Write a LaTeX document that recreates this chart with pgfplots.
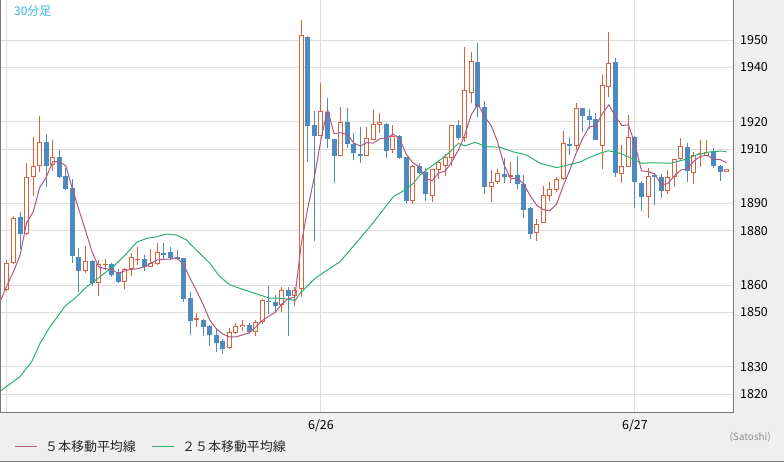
\documentclass[border=0pt]{standalone}
\usepackage{pgfplots}
\pgfplotsset{compat=1.18}
\usepackage{pgfplotstable}
\usepackage{fontspec}
\setmainfont{Noto Sans CJK JP}

\definecolor{upc}{HTML}{D9623E}
\definecolor{dnc}{HTML}{4D8AC0}
\definecolor{maf}{HTML}{B05882}
\definecolor{mas}{HTML}{2DB06E}
\definecolor{gridc}{HTML}{DDDDDD}
\definecolor{bgc}{HTML}{EFEFEF}
\definecolor{framec}{HTML}{7A7A7A}
\definecolor{lblc}{HTML}{33B5E5}

% up candles: index open high low close
\pgfplotstableread{
i o h l c
0 1858.2 1869.3 1857.8 1868.0
1 1868.0 1885.4 1867.8 1884.6
3 1878.7 1904.8 1878.5 1899.6
4 1899.6 1914.6 1892.8 1903.8
5 1903.8 1922.2 1901.7 1912.6
7 1904.2 1913.4 1902.1 1907.0
12 1865.3 1874.5 1864.4 1868.8
14 1860.9 1869.3 1856.1 1867.7
15 1867.4 1869.5 1865.6 1867.9
18 1861.1 1866.2 1858.6 1865.8
19 1866.0 1871.7 1863.4 1870.2
20 1869.1 1874.1 1867.4 1869.6
22 1866.8 1873.2 1866.6 1868.0
23 1867.7 1875.4 1867.4 1872.1
29 1847.3 1849.7 1844.8 1847.8
34 1837.0 1844.2 1836.7 1842.7
35 1842.5 1846.0 1842.0 1845.0
36 1844.5 1847.2 1843.1 1845.4
38 1842.9 1847.2 1841.3 1846.4
39 1846.4 1854.9 1845.7 1854.6
42 1852.6 1859.4 1850.0 1858.2
44 1856.1 1859.2 1852.5 1858.2
45 1858.5 1957.5 1855.8 1951.9
48 1914.9 1934.4 1914.7 1924.0
51 1907.6 1925.4 1907.4 1919.9
55 1907.6 1918.0 1907.4 1914.0
56 1913.4 1924.6 1913.2 1919.1
57 1919.0 1923.2 1916.0 1919.85
59 1909.7 1918.9 1908.7 1914.9
62 1890.9 1904.0 1889.8 1903.9
65 1892.9 1902.7 1890.7 1902.6
66 1902.3 1905.4 1899.0 1905.2
67 1903.8 1908.1 1900.1 1907.2
68 1906.85 1918.9 1903.8 1918.8
70 1914.0 1947.6 1912.7 1931.7
71 1930.5 1945.6 1926.8 1942.4
74 1896.2 1902.3 1890.7 1898.0
75 1898.0 1902.6 1897.2 1901.1
77 1899.9 1905.4 1897.4 1900.5
81 1879.1 1884.2 1876.35 1882.4
82 1883.0 1896.45 1882.7 1893.1
83 1892.9 1898.0 1891.05 1895.2
84 1895.0 1899.9 1894.4 1898.9
85 1898.9 1916.8 1898.7 1912.1
87 1911.3 1927.1 1909.7 1925.0
91 1911.3 1937.2 1902.7 1933.6
92 1932.9 1952.9 1929.05 1941.5
94 1900.75 1911.5 1897.7 1903.8
95 1903.55 1922.55 1903.4 1914.4
98 1892.5 1903.0 1884.8 1900.1
101 1894.7 1902.3 1893.5 1899.7
102 1899.7 1906.4 1896.2 1906.3
103 1906.3 1914.0 1906.0 1911.2
105 1901.3 1909.0 1897.1 1908.0
106 1908.2 1913.4 1903.55 1908.7
107 1907.5 1913.4 1907.4 1909.05
110 1901.7 1902.7 1901.6 1902.6
}\up

% down candles: index open high low close
\pgfplotstableread{
i o h l c
2 1884.95 1886.9 1873.2 1878.7
6 1912.6 1915.6 1896.2 1903.8
8 1907.1 1909.7 1899.5 1899.9
9 1900.1 1903.0 1895.0 1895.5
10 1895.6 1899.0 1868.3 1870.8
11 1870.25 1873.6 1857.5 1865.3
13 1868.9 1869.3 1859.8 1860.9
16 1867.7 1868.0 1863.1 1863.9
17 1865.0 1866.0 1860.9 1861.3
21 1869.6 1871.1 1865.2 1866.8
24 1871.8 1875.4 1869.5 1871.1
25 1872.1 1873.9 1869.3 1869.9
26 1870.5 1872.9 1869.3 1869.5
27 1869.9 1870.1 1853.9 1854.9
28 1855.4 1857.6 1841.7 1847.0
30 1847.2 1847.4 1841.4 1844.8
31 1845.0 1845.4 1837.8 1841.8
32 1841.7 1844.4 1835.6 1838.9
33 1839.6 1840.1 1834.7 1836.7
37 1845.4 1846.0 1842.1 1842.9
40 1854.3 1859.7 1849.3 1853.7
41 1853.7 1856.4 1849.7 1852.4
43 1858.2 1859.2 1841.4 1856.1
46 1951.3 1951.6 1905.4 1918.5
47 1918.9 1924.0 1876.35 1914.8
49 1923.5 1928.7 1910.3 1913.6
50 1913.7 1913.9 1897.4 1907.6
52 1919.9 1925.0 1910.5 1911.8
53 1911.8 1915.8 1906.0 1908.5
54 1908.2 1918.0 1905.0 1907.6
58 1919.1 1919.5 1906.6 1909.4
60 1914.9 1915.2 1906.3 1906.6
61 1907.0 1907.2 1890.3 1890.9
63 1903.9 1904.8 1900.9 1901.3
64 1901.7 1903.0 1890.9 1893.4
69 1918.9 1920.7 1913.4 1914.0
72 1941.9 1949.1 1921.9 1925.4
73 1925.4 1927.7 1893.5 1896.2
76 1900.9 1906.85 1897.7 1899.9
78 1900.5 1907.5 1895.2 1897.1
79 1897.2 1900.5 1884.6 1887.6
80 1888.5 1888.7 1876.9 1878.8
86 1911.9 1914.4 1907.85 1911.3
88 1925.0 1925.2 1916.4 1922.3
89 1922.2 1924.75 1917.4 1920.7
90 1921.1 1923.2 1913.2 1913.4
93 1941.9 1943.6 1899.6 1901.3
96 1914.6 1914.95 1888.5 1898.0
97 1897.4 1898.3 1887.4 1892.5
99 1900.5 1901.1 1889.5 1899.7
100 1899.65 1900.9 1892.2 1894.7
104 1910.7 1912.1 1898.0 1902.1
108 1909.3 1910.3 1903.0 1903.8
109 1903.8 1904.2 1898.4 1901.7
}\dn

\pgfplotsset{
  candle/.style 2 args={draw=none, mark=none, forget plot,
    error bars/.cd, y dir=minus, y explicit, error mark=none,
    error bar style={draw=#1, line width=#2}},
}

\begin{document}
\begin{tikzpicture}
\useasboundingbox (0bp,0bp) rectangle (784bp,462bp);
\fill[bgc] (0bp,0bp) rectangle (784bp,462bp);
\begin{axis}[
  at={(0.5bp,49.5bp)}, anchor=south west,
  scale only axis, width=733bp, height=412.5bp,
  xmin=-0.9936, xmax=111.06, ymin=1813.21, ymax=1964.81,
  axis background/.style={fill=white},
  axis line style={draw=framec, line width=1bp},
  xtick={0,48,96}, xticklabels={{},6/26,6/27},
  ytick={1820,1830,1850,1860,1880,1890,1910,1920,1940,1950},
  yticklabel pos=right,
  major tick length=0pt,
  grid=major, major grid style={draw=gridc, line width=1bp},
  /pgf/number format/assume math mode=true,
  /pgf/number format/1000 sep={},
  tick label style={font=\fontsize{12.5}{12.5}\selectfont, text=black},
  yticklabel style={anchor=west, inner sep=0pt, xshift=6.5bp},
  xticklabel style={anchor=north, inner sep=0pt, yshift=-7bp},
]
% wicks
\addplot[candle={upc}{1bp}]
  table[x=i, y=h, y error expr=\thisrow{h}-\thisrow{l}] {\up};
\addplot[candle={dnc}{1bp}]
  table[x=i, y=h, y error expr=\thisrow{h}-\thisrow{l}] {\dn};
% down bodies (filled)
\addplot[candle={dnc}{5bp}]
  table[x=i, y=o, y error expr=\thisrow{o}-\thisrow{c}] {\dn};
% up bodies (hollow)
\addplot[candle={upc}{5bp}]
  table[x=i, y=c, y error expr=\thisrow{c}-\thisrow{o}] {\up};
\addplot[candle={white}{3bp}]
  table[x=i, y expr=\thisrow{c}-0.3675, y error expr={max(\thisrow{c}-\thisrow{o}-0.735,0)}] {\up};
% 25-bar moving average
\addplot[mas, line width=1bp, mark=none] coordinates {
(-0.9,1821.3) (1.99,1826.4) (3.78,1831.9) (5.04,1838.6) (6.57,1844.7)
(8.10,1849.7) (8.87,1852.3) (10.39,1855.2) (12.18,1859.4) (14.22,1863.1)
(16.51,1867.4) (18.30,1871.7) (19.83,1875.8) (21.36,1877.2) (22.88,1877.8)
(24.41,1878.8) (25.94,1878.4) (27.47,1876.6) (27.97,1875.2) (29.50,1871.6)
(31.03,1868.0) (32.56,1863.1) (34.09,1860.1) (35.62,1858.8) (37.15,1857.6)
(38.67,1856.4) (40.20,1855.2) (41.73,1855.2) (43.26,1854.8) (44.03,1854.3)
(44.79,1857.0) (45.55,1858.8) (47.08,1862.5) (48.61,1865.0) (50.90,1868.6)
(55.49,1881.5) (59.05,1892.5) (60.84,1895.0) (62.11,1897.4) (63.13,1900.5)
(64.66,1903.3) (66.19,1906.0) (67.72,1909.0) (68.99,1912.1) (70.01,1911.2)
(71.54,1912.5) (73.33,1910.9) (75.36,1910.7) (77.40,1909.0) (79.44,1907.8)
(81.48,1904.8) (84.03,1903.2) (85.80,1904.2) (87.59,1905.3) (89.12,1907.0)
(90.65,1908.5) (91.92,1909.4) (93.71,1908.5) (95.50,1906.6) (97.02,1904.8)
(98.80,1905.0) (101.35,1904.8) (103.38,1906.0) (105.43,1907.9) (107.46,1909.0)
(109.25,1909.3) (110.02,1909.0)
};
% 5-bar moving average
\addplot[maf, line width=1bp, mark=none] coordinates {
(-0.9,1854.8) (0,1860.0) (1,1865.0) (2,1871.0) (3,1883.0) (4,1886.9)
(5,1895.9) (6,1899.7) (7,1905.4) (8,1905.4) (9,1903.8) (10,1895.4)
(11,1887.7) (12,1880.1) (13,1872.3) (14,1866.7) (15,1866.1) (16,1865.8)
(17,1864.3) (18,1865.3) (19,1865.8) (20,1866.1) (21,1866.7) (22,1868.1)
(23,1869.3) (24,1869.5) (25,1869.6) (26,1870.1) (27,1867.5) (28,1862.5)
(29,1857.8) (30,1852.8) (31,1847.2) (32,1844.0) (33,1842.0) (34,1841.0)
(35,1841.0) (36,1841.7) (37,1842.5) (38,1844.5) (39,1846.9) (40,1848.6)
(41,1850.0) (42,1853.1) (43,1855.0) (44,1855.7) (45,1875.4) (46,1888.6)
(47,1899.9) (48,1913.5) (49,1924.6) (50,1915.7) (51,1916.0) (52,1915.4)
(53,1912.3) (54,1911.1) (55,1912.4) (56,1912.2) (57,1913.8) (58,1914.0)
(59,1915.5) (60,1914.0) (61,1908.3) (62,1905.1) (63,1903.5) (64,1899.2)
(65,1898.4) (66,1901.3) (67,1901.9) (68,1905.4) (69,1909.6) (70,1915.4)
(71,1922.8) (72,1926.5) (73,1921.9) (74,1918.7) (75,1912.6) (76,1904.1)
(77,1899.1) (78,1899.3) (79,1897.2) (80,1892.8) (81,1889.3) (82,1887.8)
(83,1887.4) (84,1889.7) (85,1896.3) (86,1902.1) (87,1908.5) (88,1913.9)
(89,1918.3) (90,1918.5) (91,1923.0) (92,1926.3) (93,1922.1) (94,1918.7)
(95,1918.9) (96,1911.8) (97,1902.0) (98,1901.8) (99,1900.9) (100,1897.0)
(101,1897.3) (102,1900.1) (103,1902.3) (104,1902.8) (105,1905.6) (106,1907.3)
(107,1907.8) (108,1906.3) (109,1906.2) (110,1905.0)
};
\end{axis}
% outer frame line at bottom
\draw[framec, line width=1bp] (0bp,0.5bp) -- (784bp,0.5bp);
% timeframe label
\node[anchor=west, inner sep=0pt, text=lblc, font=\fontsize{12}{12}\selectfont] at (14bp,451.2bp) {30分足};
% legend
\draw[maf, line width=1bp] (15bp,15bp) -- (37bp,15bp);
\node[anchor=west, inner sep=0pt, text=black!85, font=\fontsize{13}{13}\selectfont] at (45bp,15bp) {５本移動平均線};
\draw[mas, line width=1bp] (152bp,15bp) -- (174bp,15bp);
\node[anchor=west, inner sep=0pt, text=black!85, font=\fontsize{13}{13}\selectfont] at (182bp,15bp) {２５本移動平均線};
% unit
\node[anchor=east, inner sep=0pt, text=black!45, font=\fontsize{10}{10}\selectfont] at (771bp,24.3bp) {(Satoshi)};
\end{tikzpicture}
\end{document}
